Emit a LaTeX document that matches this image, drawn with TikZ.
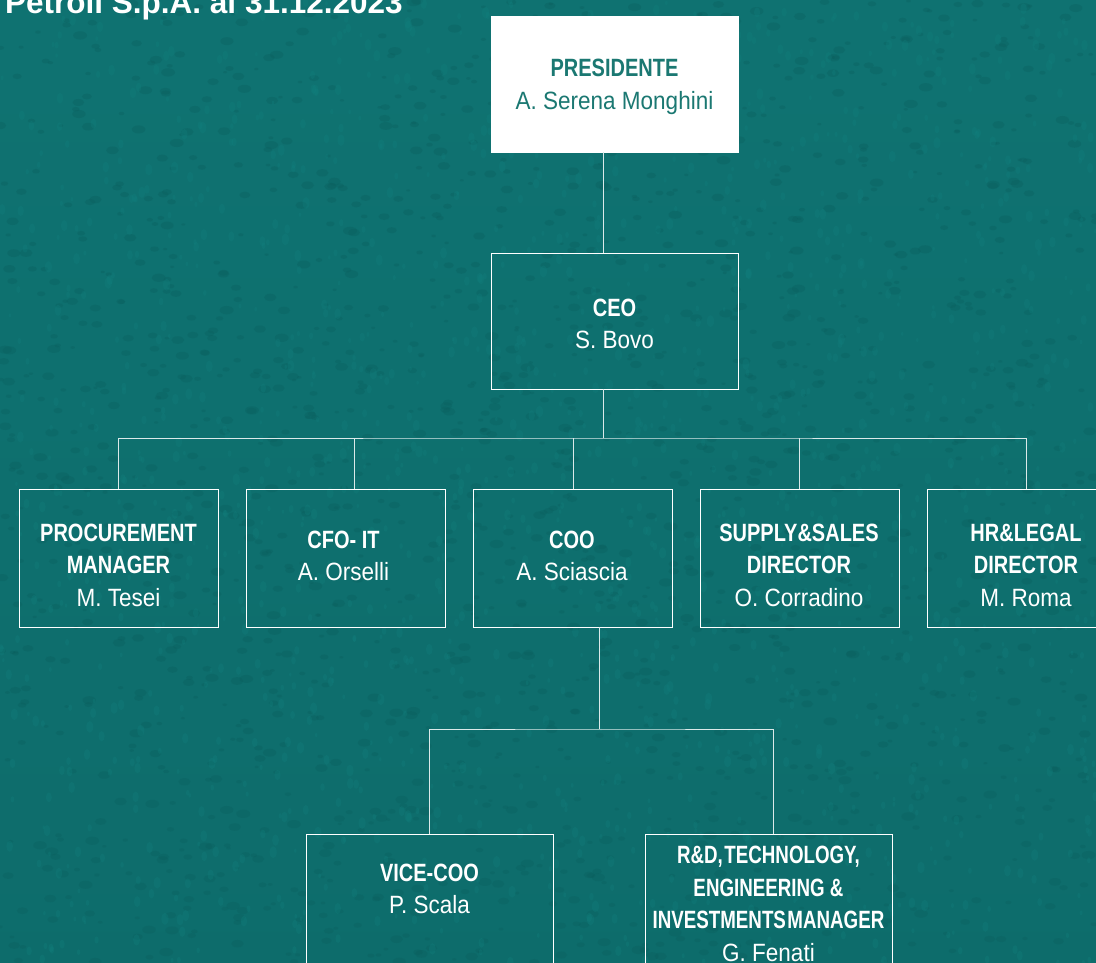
\documentclass[tikz,border=0pt]{standalone}
\usepackage{fontspec}
\setmainfont{Liberation Sans}
\newfontfamily\bdfont[FakeStretch=0.8]{Liberation Sans}
\newfontfamily\bdnarrow[FakeStretch=0.75]{Liberation Sans}
\newfontfamily\rgfont[FakeStretch=0.9]{Liberation Sans}
\newcommand\hb{\bdfont\bfseries}
\newcommand\hbn{\bdnarrow\bfseries}
\newcommand\nm{\rgfont\mdseries}
\definecolor{bg}{HTML}{0E6F6E}
\definecolor{bglight}{HTML}{12807E}
\definecolor{bgdark}{HTML}{0A5D5C}
\definecolor{tealtxt}{HTML}{1B7872}
\begin{document}
\begin{tikzpicture}[x=1pt,y=-1pt,
  box/.style={draw=white,line width=0.9pt,inner sep=0pt,outer sep=0pt,anchor=north west},
  rowbox/.style={box,minimum width=199pt,minimum height=138pt},
  bigbox/.style={box,minimum width=247pt,minimum height=136pt},
  txt/.style={text=white,align=center,inner sep=0pt,font=\fontsize{25}{32.5}\selectfont},
  conn/.style={draw=white!85!bg,line width=0.9pt}]
\useasboundingbox (0,0) rectangle (1096,963);
\clip (0,0) rectangle (1096,963);
\shade[top color=bg!80!bglight, bottom color=bg!85!bgdark] (0,0) rectangle (1096,963);
% texture
\pgfmathsetseed{7}
\foreach \i in {1,...,1800}{
  \pgfmathsetmacro{\px}{rnd*1096}
  \pgfmathsetmacro{\py}{rnd*963}
  \pgfmathsetmacro{\rr}{2+rnd*5}
  \fill[bgdark,opacity=0.3] (\px,\py) ellipse ({\rr pt} and {0.6*\rr pt});
}
\foreach \i in {1,...,1500}{
  \pgfmathsetmacro{\px}{rnd*1096}
  \pgfmathsetmacro{\py}{rnd*963}
  \pgfmathsetmacro{\rr}{2+rnd*4}
  \fill[bglight,opacity=0.3] (\px,\py) ellipse ({0.6*\rr pt} and {\rr pt});
}
% title
\node[anchor=base west,inner sep=0pt,text=white,font=\fontsize{31.5}{36}\selectfont\bfseries] (title) at (5,14) {Petroli S.p.A. al 31.12.2023};
% boxes
\node[bigbox,fill=white,draw=white] (pres) at (491,16) {};
\node[bigbox] (ceo) at (491,253) {};
\node[rowbox] (proc) at (19,489) {};
\node[rowbox] (cfo) at (246,489) {};
\node[rowbox] (coo) at (473,489) {};
\node[rowbox] (sup) at (700,489) {};
\node[rowbox] (hr) at (927,489) {};
\node[bigbox] (vice) at (306,834) {};
\node[bigbox] (rd) at (645,834) {};
% texts
\node[txt,text=tealtxt] (presT) at (614.5,87) {\hb PRESIDENTE\\\nm A. Serena Monghini};
\node[txt] (ceoT) at (614.5,324) {\hb CEO\\\nm S. Bovo};
\node[txt] (procT) at (118.5,565) {\hb PROCUREMENT\\\hb MANAGER\\\nm M. Tesei};
\node[txt] (cfoT) at (343.5,556) {\hb CFO- IT\\\nm A. Orselli};
\node[txt] (cooT) at (572,556) {\hb COO\\\nm A. Sciascia};
\node[txt] (supT) at (799,565) {\hb SUPPLY\&SALES\\\hb DIRECTOR\\\nm O. Corradino};
\node[txt] (hrT) at (1026,565) {\hb HR\&LEGAL\\\hb DIRECTOR\\\nm M. Roma};
\node[txt] (viceT) at (429.5,889) {\hb VICE-COO\\\nm P. Scala};
\node[txt] (rdT) at (768.5,904) {\hbn R\&D,\hspace{1.5pt}TECHNOLOGY,\\\hbn ENGINEERING \&\\\hbn INVESTMENTS\hspace{1.5pt}MANAGER\\\nm G. Fenati};
% connectors
\coordinate (j1) at (603,438);
\coordinate (j2) at (599,729);
\draw[conn] (pres.south -| j1) -- (ceo.north -| j1);
\draw[conn] (ceo.south -| j1) -- (j1);
\draw[conn] (proc.north) |- (j1) -| (hr.north);
\draw[conn] ([xshift=8.5pt]cfo.north) -- ++(0,-51);
\draw[conn] ([xshift=1pt]coo.north) -- ++(0,-51);
\draw[conn] (sup.north) -- ++(0,-51);
\draw[conn] (coo.south -| j2) -- (j2);
\draw[conn] (vice.north) |- (j2) -| ([xshift=4.5pt]rd.north);
\end{tikzpicture}
\end{document}
